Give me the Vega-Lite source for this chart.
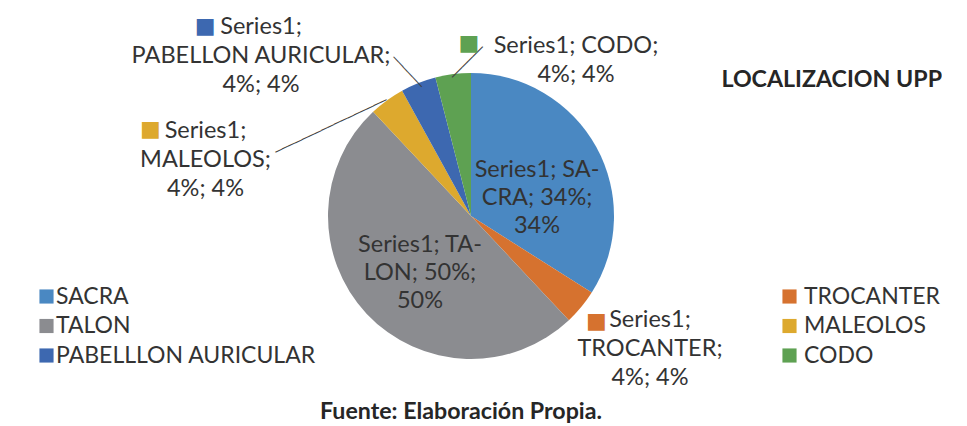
{
  "$schema": "https://vega.github.io/schema/vega-lite/v6.json",
  "padding": 0,
  "background": "white",
  "config": {"view": {"stroke": null}},
  "title": {"text": "Fuente: Elaboración Propia.", "orient": "bottom", "anchor": "middle", "offset": -13, "baseline": "alphabetic", "font": "Lato", "fontSize": 23.2, "fontWeight": "bold", "color": "#262626", "dx": -10},
  "vconcat": [
    {
      "width": 942,
      "height": 432,
      "title": {"text": "LOCALIZACION UPP", "orient": "top", "anchor": "end", "offset": -110, "baseline": "alphabetic", "font": "Lato", "fontSize": 23.2, "fontWeight": "bold", "color": "#262626"},
      "data": {"values": [
        {"cat": "SACRA", "value": 34, "ord": 1, "label": "Series1; SA-\nCRA; 34%;\n34%"},
        {"cat": "TROCANTER", "value": 4, "ord": 2, "label": "Series1;\nTROCANTER;\n4%; 4%"},
        {"cat": "TALON", "value": 50, "ord": 3, "label": "Series1; TA-\nLON; 50%;\n50%"},
        {"cat": "MALEOLOS", "value": 4, "ord": 4, "label": "Series1;\nMALEOLOS;\n4%; 4%"},
        {"cat": "PABELLON AURICULAR", "value": 4, "ord": 5, "label": "Series1;\nPABELLON AURICULAR;\n4%; 4%"},
        {"cat": "CODO", "value": 4, "ord": 6, "label": "Series1; CODO;\n4%; 4%"}
      ]},
      "resolve": {"legend": {"color": "independent"}},
      "layer": [
        {
          "mark": {"type": "arc", "radius": 143},
          "encoding": {
            "theta": {"field": "value", "type": "quantitative", "stack": true},
            "order": {"field": "ord", "type": "quantitative"},
            "color": {
              "field": "cat", "type": "nominal",
              "scale": {"domain": ["SACRA", "TROCANTER", "TALON", "MALEOLOS", "PABELLON AURICULAR", "CODO"], "range": ["#4A88C2", "#D6722F", "#8B8C90", "#DDA92E", "#3D68B0", "#5EA152"]},
              "legend": {"values": ["SACRA", "TALON", "PABELLON AURICULAR"], "labelExpr": "datum.label === 'PABELLON AURICULAR' ? 'PABELLLON AURICULAR' : datum.label", "orient": "none", "legendX": 35, "legendY": 285, "title": null, "padding": 0, "symbolType": "square", "symbolSize": 200, "symbolStrokeWidth": 0, "labelFont": "Lato", "labelFontSize": 23, "labelColor": "#333333", "labelOffset": -2, "rowPadding": 5.5, "labelLimit": 400}
            }
          }
        },
        {
          "mark": {"type": "text", "radius": 143, "angle": 47, "dx": -15.5, "dy": 1.1, "font": "DejaVu Sans", "fontSize": 11.4, "align": "center", "baseline": "middle", "color": "#404040"},
          "encoding": {
            "theta": {"field": "value", "type": "quantitative", "stack": true},
            "order": {"field": "ord", "type": "quantitative"},
            "text": {"condition": {"test": "datum.cat === 'PABELLON AURICULAR'", "value": "──────"}, "value": ""}
          }
        },
        {
          "mark": {"type": "text", "radius": 143, "angle": -25.3, "dx": -61.5, "dy": -0.6, "font": "DejaVu Sans", "fontSize": 12, "align": "center", "baseline": "middle", "color": "#404040"},
          "encoding": {
            "theta": {"field": "value", "type": "quantitative", "stack": true},
            "order": {"field": "ord", "type": "quantitative"},
            "text": {"condition": {"test": "datum.cat === 'MALEOLOS'", "value": "─────────────────"}, "value": ""}
          }
        },
        {
          "mark": {"type": "text", "radius": 143, "angle": -45, "dx": 18.7, "dy": 1.7, "font": "DejaVu Sans", "fontSize": 12, "align": "center", "baseline": "middle", "color": "#404040"},
          "encoding": {
            "theta": {"field": "value", "type": "quantitative", "stack": true},
            "order": {"field": "ord", "type": "quantitative"},
            "text": {"condition": {"test": "datum.cat === 'CODO'", "value": "──────"}, "value": ""}
          }
        },
        {
          "mark": {"type": "text", "radius": 70, "dx": 4.7, "dy": -12.4, "font": "Lato", "fontSize": 23.5, "lineHeight": 28, "lineBreak": "\n", "align": "center", "baseline": "middle", "color": "#333333"},
          "encoding": {
            "theta": {"field": "value", "type": "quantitative", "stack": true},
            "order": {"field": "ord", "type": "quantitative"},
            "text": {"condition": {"test": "datum.cat === 'SACRA'", "field": "label"}, "value": ""}
          }
        },
        {
          "mark": {"type": "text", "radius": 70, "dx": 0, "dy": -19, "font": "Lato", "fontSize": 23.5, "lineHeight": 28, "lineBreak": "\n", "align": "center", "baseline": "middle", "color": "#333333"},
          "encoding": {
            "theta": {"field": "value", "type": "quantitative", "stack": true},
            "order": {"field": "ord", "type": "quantitative"},
            "text": {"condition": {"test": "datum.cat === 'TALON'", "field": "label"}, "value": ""}
          }
        },
        {
          "mark": {"type": "text", "radius": 170, "dx": -147.4, "dy": -30.5, "font": "Lato", "fontSize": 23.5, "lineHeight": 29, "lineBreak": "\n", "align": "center", "baseline": "middle", "color": "#333333"},
          "encoding": {
            "theta": {"field": "value", "type": "quantitative", "stack": true},
            "order": {"field": "ord", "type": "quantitative"},
            "text": {"condition": {"test": "datum.cat === 'PABELLON AURICULAR'", "field": "label"}, "value": ""}
          }
        },
        {
          "mark": {"type": "text", "radius": 170, "dx": -165.6, "dy": 52.4, "font": "Lato", "fontSize": 23.5, "lineHeight": 29, "lineBreak": "\n", "align": "center", "baseline": "middle", "color": "#333333"},
          "encoding": {
            "theta": {"field": "value", "type": "quantitative", "stack": true},
            "order": {"field": "ord", "type": "quantitative"},
            "text": {"condition": {"test": "datum.cat === 'MALEOLOS'", "field": "label"}, "value": ""}
          }
        },
        {
          "mark": {"type": "text", "radius": 170, "dx": 126.3, "dy": -1.4, "font": "Lato", "fontSize": 23.5, "lineHeight": 29, "lineBreak": "\n", "align": "center", "baseline": "middle", "color": "#333333"},
          "encoding": {
            "theta": {"field": "value", "type": "quantitative", "stack": true},
            "order": {"field": "ord", "type": "quantitative"},
            "text": {"condition": {"test": "datum.cat === 'CODO'", "field": "label"}, "value": ""}
          }
        },
        {
          "mark": {"type": "text", "radius": 170, "dx": 48, "dy": -4.5, "font": "Lato", "fontSize": 23.5, "lineHeight": 29, "lineBreak": "\n", "align": "center", "baseline": "middle", "color": "#333333"},
          "encoding": {
            "theta": {"field": "value", "type": "quantitative", "stack": true},
            "order": {"field": "ord", "type": "quantitative"},
            "text": {"condition": {"test": "datum.cat === 'TROCANTER'", "field": "label"}, "value": ""}
          }
        },
        {
          "mark": {"type": "text", "radius": 170, "dx": -203.4, "dy": -32.4, "font": "DejaVu Sans", "fontSize": 22, "align": "center", "baseline": "middle"},
          "encoding": {
            "theta": {"field": "value", "type": "quantitative", "stack": true},
            "order": {"field": "ord", "type": "quantitative"},
            "color": {"field": "cat", "type": "nominal", "legend": null},
            "text": {"condition": {"test": "datum.cat === 'PABELLON AURICULAR'", "value": "■"}, "value": ""}
          }
        },
        {
          "mark": {"type": "text", "radius": 170, "dx": -220.6, "dy": 51, "font": "DejaVu Sans", "fontSize": 22, "align": "center", "baseline": "middle"},
          "encoding": {
            "theta": {"field": "value", "type": "quantitative", "stack": true},
            "order": {"field": "ord", "type": "quantitative"},
            "color": {"field": "cat", "type": "nominal", "legend": null},
            "text": {"condition": {"test": "datum.cat === 'MALEOLOS'", "value": "■"}, "value": ""}
          }
        },
        {
          "mark": {"type": "text", "radius": 170, "dx": 19.3, "dy": -4.3, "font": "DejaVu Sans", "fontSize": 22, "align": "center", "baseline": "middle"},
          "encoding": {
            "theta": {"field": "value", "type": "quantitative", "stack": true},
            "order": {"field": "ord", "type": "quantitative"},
            "color": {"field": "cat", "type": "nominal", "legend": null},
            "text": {"condition": {"test": "datum.cat === 'CODO'", "value": "■"}, "value": ""}
          }
        },
        {
          "mark": {"type": "text", "radius": 170, "dx": -5.5, "dy": -2.9, "font": "DejaVu Sans", "fontSize": 22, "align": "center", "baseline": "middle"},
          "encoding": {
            "theta": {"field": "value", "type": "quantitative", "stack": true},
            "order": {"field": "ord", "type": "quantitative"},
            "color": {
              "field": "cat", "type": "nominal",
              "legend": {"values": ["TROCANTER", "MALEOLOS", "CODO"], "orient": "none", "legendX": 778, "legendY": 285, "title": null, "padding": 0, "symbolType": "square", "symbolSize": 200, "symbolStrokeWidth": 0, "symbolOpacity": 1, "labelFont": "Lato", "labelFontSize": 23, "labelColor": "#333333", "labelOffset": 3, "rowPadding": 5.5, "labelLimit": 400}
            },
            "text": {"condition": {"test": "datum.cat === 'TROCANTER'", "value": "■"}, "value": ""}
          }
        }
      ]
    }
  ]
}
